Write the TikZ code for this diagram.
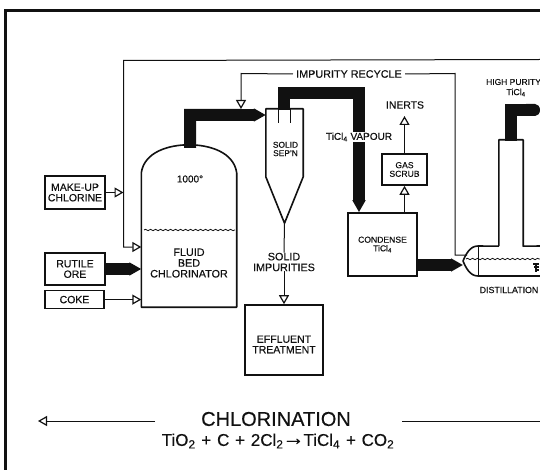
\documentclass[tikz,border=0pt]{standalone}
\usepackage{xcolor}
\usepackage{fontspec}
\setmainfont{Liberation Sans}[FakeBold=0.35]
\definecolor{cInk}{HTML}{111111}
\usetikzlibrary{positioning,arrows.meta,calc,decorations.pathmorphing}
\newcommand{\fsz}[1]{\fontsize{#1}{#1}\selectfont}
\newcommand{\gapsp}{\hspace{.34em}}
\tikzset{
  node-box/.style={draw=cInk,line width=1.6pt,inner sep=0pt,align=center,font=\fsz{10.5},text=cInk},
  node-small/.style={node-box,font=\fsz{8.6}},
  node-label/.style={inner sep=0pt,align=center,font=\fsz{10.8},text=cInk},
  node-anchor/.style={inner sep=0pt,minimum width=#1},
  wall/.style={draw=cInk,line width=1.6pt,line join=round},
  arrow/.style={-{Triangle[open,length=9pt,width=10pt,line width=1.2pt]},line width=1pt,draw=cInk},
  arrow-plain/.style={line width=1pt,draw=cInk},
  arrow-thick/.style={-{Triangle[length=12pt,width=12.5pt]},line width=12pt,draw=cInk},
  pipe/.style={line width=12pt,draw=cInk},
  level/.style={draw=cInk,line width=.8pt,decorate,decoration={snake,amplitude=.7pt,segment length=5pt}},
}
\begin{document}
\begin{tikzpicture}[x=1pt,y=-1pt]
  \useasboundingbox (0,0) rectangle (540,470);
  % page frame
  \draw[cInk,line width=2.4pt] (5.5,470) -- (5.5,10.5) -- (540,10.5);

  % feed boxes
  \node[node-box,minimum width=60pt,minimum height=33pt] (makeup) at (75,192.5) {MAKE-UP\\CHLORINE};
  \node[node-box,minimum width=60pt,minimum height=32pt] (rutile) at (75,269) {RUTILE\\ORE};
  \node[node-box,minimum width=59pt,minimum height=18pt,below=4pt of rutile.south west,anchor=north west] (coke) {COKE};

  % chlorinator
  \node[node-anchor=95pt,minimum height=162pt] (chlor) at (189,226) {};
  \draw[wall] (chlor.south west) -- ($(chlor.north west)+(0,28)$)
    .. controls ($(chlor.north west)+(3,7)$) and ($(chlor.north)+(-20,0)$) .. (chlor.north)
    .. controls ($(chlor.north)+(20,0)$) and ($(chlor.north east)+(-3,7)$) .. ($(chlor.north east)+(0,28)$)
    -- (chlor.south east) -- cycle;
  \draw[level] (144,230) -- (235,230);
  \node[node-label,font=\fsz{10}] (temp) at (190,179) {1000°};
  \node[node-label] (bedtext) at (189,263) {FLUID\\BED\\CHLORINATOR};

  % solids separator
  \node[node-anchor=37pt,minimum height=114pt] (sep) at (284.5,166) {};
  \draw[wall] (sep.north west) -- (sep.north east) -- ($(sep.north east)+(0,68)$)
    -- (sep.south) -- ($(sep.north west)+(0,68)$) -- cycle;
  \draw[arrow-plain] (278,109) -- (278,123) (290,109) -- (290,123);
  \node[node-label,font=\fsz{8.4}] (septext) at (285.5,149) {SOLID\\SEP'N};
  \node[node-label] (solids) at (284,262) {SOLID\\IMPURITIES};
  \node[node-box,minimum width=78pt,minimum height=70pt] (effluent) at (284,340) {\rule{0pt}{16pt}EFFLUENT\\TREATMENT};

  % condenser and scrubber
  \node[node-small,minimum width=69pt,minimum height=63pt] (condense) at (382.5,244.5) {CONDENSE\\TiCl\textsubscript{4}};
  \node[node-small,minimum width=45pt,minimum height=31pt] (scrub) at (404.5,169.5) {GAS\\SCRUB};
  \node[node-label,font=\fsz{10.4}] (inerts) at (405,105) {INERTS};
  \coordinate (inertstip) at (404.5,116);

  % distillation column
  \node[node-anchor=24pt,minimum height=106pt] (column) at (511,193) {};
  \coordinate (still) at (463,261);
  \coordinate (stillin) at (467,255);
  \draw[wall] (column.south west) -- (column.north west) -- (column.north east) -- (column.south east) -- (541,246);
  \draw[wall] (column.south west) -- (478,246)
    .. controls (470,246) and (466,254) .. (still)
    .. controls (466,268) and (470,276) .. (478,276) -- (541,276);
  \draw[wall,line width=1pt] (478,246) -- (478,276);
  \draw[level] (466,259) -- (540,259);
  \draw[cInk,line width=1.4pt] (533,264) -- (539,264) (534,267) -- (539,267) (535,270) -- (539,270) (536,264) -- (536,272);
  \node[node-label,font=\fsz{8.5}] (purity) at (513.5,82) {HIGH PURITY};
  \node[node-label,font=\fsz{8.8}] (puretext) at (516,92.5) {TiCl\textsubscript{4}};
  \node[node-label,font=\fsz{8.8}] (distil) at (509,290) {DISTILLATION};

  % hot pipes
  \draw[pipe] (chlor.north) ++(1,3) -- ++(0,-33) -- (241,115);
  \draw[arrow-thick] (241,115) -- (sep.north west |- 0,115);
  \draw[arrow-thick] (rutile.east) -- (rutile.east -| chlor.west);
  \draw[pipe] (284,110) -- (284,93) -- (359,93) -- (359,125);
  \node[coordinate] (vapourtop) at (359,125) {};
  \draw[arrow-thick] (vapourtop) -- (condense.north -| vapourtop);
  \draw[arrow-thick] (condense.east |- 0,265) -- (still |- 0,265);
  \draw[pipe,-{Round Cap[length=5pt]}] (511,141) -- (511,110) -- (540,110);

  \node[node-label,fill=white,inner sep=1pt,font=\fsz{10}] (vapour) at (359,137) {TiCl\textsubscript{4} VAPOUR};

  % recycle lines
  \node[node-label,fill=white,inner xsep=3pt] (recycle) at (349,74) {IMPURITY RECYCLE};
  \coordinate (recycleleft) at (241,73.5);
  \coordinate (recycleright) at (455,73.5);
  \draw[arrow] (recycle.west) -- (recycleleft) -- ($(recycleleft)+(0,35.5)$);
  \draw[arrow-plain] (recycle.east) -- (recycleright) -- (recycleright |- stillin) -- (stillin);
  \coordinate (mainleft) at (123.5,60.5);
  \draw[arrow] (540,59.5) -- (mainleft) -- (mainleft |- 0,247) -- (chlor.west |- 0,247);
  \draw[arrow] (makeup.east) -- (makeup.east -| mainleft);
  \draw[arrow] (coke.east) -- (coke.east -| chlor.west);
  \draw[arrow-plain] (sep.south) -- (solids.north);
  \draw[arrow] (solids.south) -- (effluent.north);
  \draw[arrow] (condense.north -| scrub) -- (scrub.south);
  \draw[arrow] (scrub.north) -- (inertstip);

  % process band
  \node[node-label,font=\fsz{20}] (band) at (276,419) {CHLORINATION};
  \node[node-label,font=\fsz{17}] (formula) at (278,441) {TiO\textsubscript{2}\gapsp+\gapsp C\gapsp+\gapsp 2Cl\textsubscript{2}\kern-1pt\smash{\raisebox{.8pt}{\fsz{22}→}}\kern-1pt TiCl\textsubscript{4}\gapsp+\gapsp CO\textsubscript{2}};
  \coordinate (bandleft) at (38,421);
  \coordinate (bandright) at (540,421);
  \draw[arrow] (155,421) -- (bandleft);
  \draw[arrow-plain] (402,421) -- (bandright);
\end{tikzpicture}
\end{document}
